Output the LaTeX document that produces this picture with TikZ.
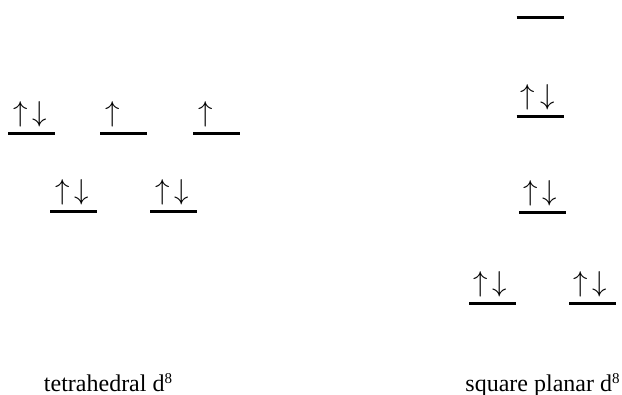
\documentclass[tikz,border=0pt]{standalone}
\usepackage{fontspec}
\setmainfont{Liberation Serif}
\usetikzlibrary{positioning}
\tikzset{
every picture/.style={line cap=butt,line join=miter},
level/.style={minimum width=23.5pt, minimum height=0pt, inner sep=0pt, outer sep=0pt},
level line/.style={draw=black, line width=1.5pt},
spin/.style={font=\fontsize{14}{16}\selectfont, inner sep=0pt},
caption/.style={font=\fontsize{12}{14}\selectfont, inner sep=0pt, anchor=base}
}
\newcommand{\pairspin}{$\uparrow\hspace{2.5pt}\downarrow$}
\newcommand{\onespin}{$\uparrow$}

\begin{document}
\begin{tikzpicture}[x=0.5pt,y=-0.5pt]
\useasboundingbox (0,0) rectangle (622,395);
% tetrahedral
\node[level] (t1) at (31.5,134) {};
\node[level] (t2) at (123.5,134) {};
\node[level] (t3) at (216.5,134) {};
\node[level] (t4) at (73.5,212) {};
\node[level] (t5) at (173.5,212) {};
% square planar
\node[level] (s1) at (540,18) {};
\node[level] (s2) at (540,117) {};
\node[level] (s3) at (542.5,213) {};
\node[level] (s4) at (492.5,304) {};
\node[level] (s5) at (592.5,304) {};
\foreach \o in {t1,t2,t3,t4,t5,s1,s2,s3,s4,s5}
  \draw[level line] (\o.west) -- (\o.east);
% electrons
\node[spin, above right=3pt and 2.5pt of t1.west] (e1) {\pairspin};
\node[spin, above right=3pt and 2.5pt of t2.west] (e2) {\onespin};
\node[spin, above right=3pt and 2.5pt of t3.west] (e3) {\onespin};
\node[spin, above right=3pt and 2.5pt of t4.west] (e4) {\pairspin};
\node[spin, above right=3pt and 2.5pt of t5.west] (e5) {\pairspin};
\node[spin, above right=3pt and 2pt of s2.west] (e6) {\pairspin};
\node[spin, above right=3pt and 2pt of s3.west] (e7) {\pairspin};
\node[spin, above right=3pt and 2pt of s4.west] (e8) {\pairspin};
\node[spin, above right=3pt and 2pt of s5.west] (e9) {\pairspin};
% labels
\node[caption] (tlabel) at (108,392) {tetrahedral d\raisebox{0.75ex}{\fontsize{7.5}{8}\selectfont 8}};
\node[caption] (slabel) at (542.5,392) {square planar d\raisebox{0.75ex}{\fontsize{7.5}{8}\selectfont 8}};
\end{tikzpicture}
\end{document}
